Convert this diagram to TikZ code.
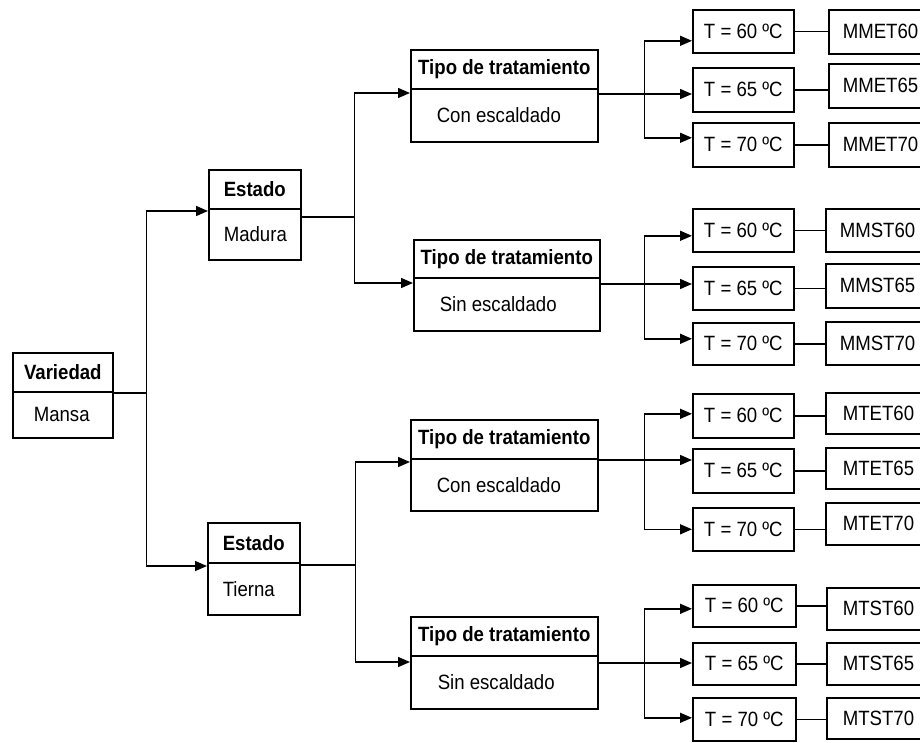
\documentclass[tikz,border=0pt]{standalone}
\usepackage{fontspec}
\setmainfont{Liberation Sans}[FakeStretch=0.9]
\usetikzlibrary{arrows.meta}
\newlength\pxu
\setlength\pxu{0.75pt}
\newcommand\indtxt[3]{\makebox[\dimexpr#1\pxu\relax][l]{\hspace*{\dimexpr#2\pxu\relax}#3}}
\begin{document}
\begin{tikzpicture}[x=0.75pt,y=-0.75pt,
  every node/.style={font=\fontsize{15.5}{17}\selectfont},
  bx/.style 2 args={draw=black, line width=1.2pt, anchor=north west, inner sep=0pt,
    minimum width=#1*\pxu, minimum height=#2*\pxu},
  hd/.style 2 args={bx={#1}{#2}, font=\fontsize{15.5}{17}\selectfont\bfseries},
  ln/.style={draw=black, line width=1.1pt},
  arr/.style={ln, -{Triangle[length=9pt,width=7.5pt]}}]
\useasboundingbox (0,0) rectangle (920,742);
\clip (0,0) rectangle (920,742);

% Variedad
\node[hd={100}{39}] (varh) at (12,352) {Variedad};
\node[bx={100}{46}] (varb) at (12,391) {\indtxt{100}{21}{Mansa}};
% Estado
\node[hd={92}{39}] (madh) at (208,169) {Estado};
\node[bx={92}{51}] (madb) at (208,208) {\indtxt{92}{15}{Madura}};
\node[hd={92}{40}] (tieh) at (207,522) {Estado};
\node[bx={92}{52}] (tieb) at (207,562) {\indtxt{92}{15}{Tierna}};
% Tipo de tratamiento
\node[hd={187}{39}] (tp1h) at (410,49) {Tipo de tratamiento};
\node[bx={187}{53}] (tp1b) at (410,88) {\indtxt{187}{26}{Con escaldado}};
\node[hd={186}{38}] (tp2h) at (413,239) {Tipo de tratamiento};
\node[bx={186}{53}] (tp2b) at (413,277) {\indtxt{186}{26}{Sin escaldado}};
\node[hd={187}{39}] (tp3h) at (410,419) {Tipo de tratamiento};
\node[bx={187}{52}] (tp3b) at (410,458) {\indtxt{187}{26}{Con escaldado}};
\node[hd={187}{39}] (tp4h) at (410,616) {Tipo de tratamiento};
\node[bx={187}{53}] (tp4b) at (410,655) {\indtxt{187}{27}{Sin escaldado}};

% Temperature boxes
\node[bx={101}{43}] (t11) at (692,9) {T = 60 ºC};
\node[bx={101}{44}] (t12) at (692,67) {T = 65 ºC};
\node[bx={101}{44}] (t13) at (692,122) {T = 70 ºC};
\node[bx={101}{43}] (t21) at (692,208) {T = 60 ºC};
\node[bx={101}{43}] (t22) at (692,266) {T = 65 ºC};
\node[bx={101}{42}] (t23) at (692,322) {T = 70 ºC};
\node[bx={101}{44}] (t31) at (692,393) {T = 60 ºC};
\node[bx={101}{44}] (t32) at (692,448) {T = 65 ºC};
\node[bx={101}{43}] (t33) at (692,507) {T = 70 ºC};
\node[bx={103}{42}] (t41) at (692,584) {T = 60 ºC};
\node[bx={103}{42}] (t42) at (692,642) {T = 65 ºC};
\node[bx={103}{43}] (t43) at (692,697) {T = 70 ºC};

% Code boxes
\node[bx={110}{44}] (m11) at (828,9) {\indtxt{110}{14}{MMET60}};
\node[bx={110}{44}] (m12) at (828,63) {\indtxt{110}{14}{MMET65}};
\node[bx={110}{44}] (m13) at (828,122) {\indtxt{110}{14}{MMET70}};
\node[bx={113}{43}] (m21) at (825,208) {\indtxt{113}{14}{MMST60}};
\node[bx={113}{44}] (m22) at (825,263) {\indtxt{113}{14}{MMST65}};
\node[bx={113}{43}] (m23) at (825,321) {\indtxt{113}{14}{MMST70}};
\node[bx={113}{41}] (m31) at (825,392) {\indtxt{113}{17}{MTET60}};
\node[bx={113}{41}] (m32) at (825,447) {\indtxt{113}{17}{MTET65}};
\node[bx={113}{42}] (m33) at (825,502) {\indtxt{113}{17}{MTET70}};
\node[bx={112}{42}] (m41) at (826,587) {\indtxt{112}{16}{MTST60}};
\node[bx={112}{42}] (m42) at (826,642) {\indtxt{112}{16}{MTST65}};
\node[bx={112}{41}] (m43) at (826,697) {\indtxt{112}{16}{MTST70}};

% Variedad -> Estado
\draw[arr] ([yshift=-2*\pxu]varb.north east) -- ++(33,0) coordinate (jv)
  |- ([yshift=-3*\pxu]madb.north west);
\draw[arr] (jv) |- ([yshift=-4*\pxu]tieb.north west);
% Estado -> Tipo
\draw[arr] ([yshift=-9*\pxu]madb.north east) -- ++(53,0) coordinate (jm)
  |- ([yshift=-5*\pxu]tp1b.north west);
\draw[arr] (jm) |- ([yshift=-6*\pxu]tp2b.north west);
\draw[arr] ([yshift=-3*\pxu]tieb.north east) -- ++(55,0) coordinate (jt)
  |- ([yshift=-4*\pxu]tp3b.north west);
\draw[arr] (jt) |- ([yshift=-7*\pxu]tp4b.north west);

% Tipo -> temperatures
\draw[ln] ([yshift=-6*\pxu]tp1b.north east) -- ++(46,0) coordinate (g1);
\draw[arr] (g1) -- (g1 -| t12.west);
\draw[arr] (g1) |- ([yshift=-9.5*\pxu]t11.west);
\draw[arr] (g1) |- ([yshift=7*\pxu]t13.west);
\draw[ln] ([yshift=-7*\pxu]tp2b.north east) -- ++(44,0) coordinate (g2);
\draw[arr] (g2) -- (g2 -| t22.west);
\draw[arr] (g2) |- ([yshift=-5.5*\pxu]t21.west);
\draw[arr] (g2) |- ([yshift=5*\pxu]t23.west);
\draw[ln] ([yshift=-2*\pxu]tp3b.north east) -- ++(46,0) coordinate (g3);
\draw[arr] (g3) -- (g3 -| t32.west);
\draw[arr] (g3) |- ([yshift=2*\pxu]t31.west);
\draw[arr] (g3) |- (t33.west);
\draw[ln] ([yshift=-8*\pxu]tp4b.north east) -- ++(46,0) coordinate (g4);
\draw[arr] (g4) -- (g4 -| t42.west);
\draw[arr] (g4) |- ([yshift=-3*\pxu]t41.west);
\draw[arr] (g4) |- ([yshift=1.5*\pxu]t43.west);

% temperatures -> codes
\foreach \g in {1,2,3,4}{
  \foreach \k in {1,2,3}{
    \draw[ln] (t\g\k.east) -- (t\g\k.east -| m\g\k.west);
  }
}
\end{tikzpicture}
\end{document}
